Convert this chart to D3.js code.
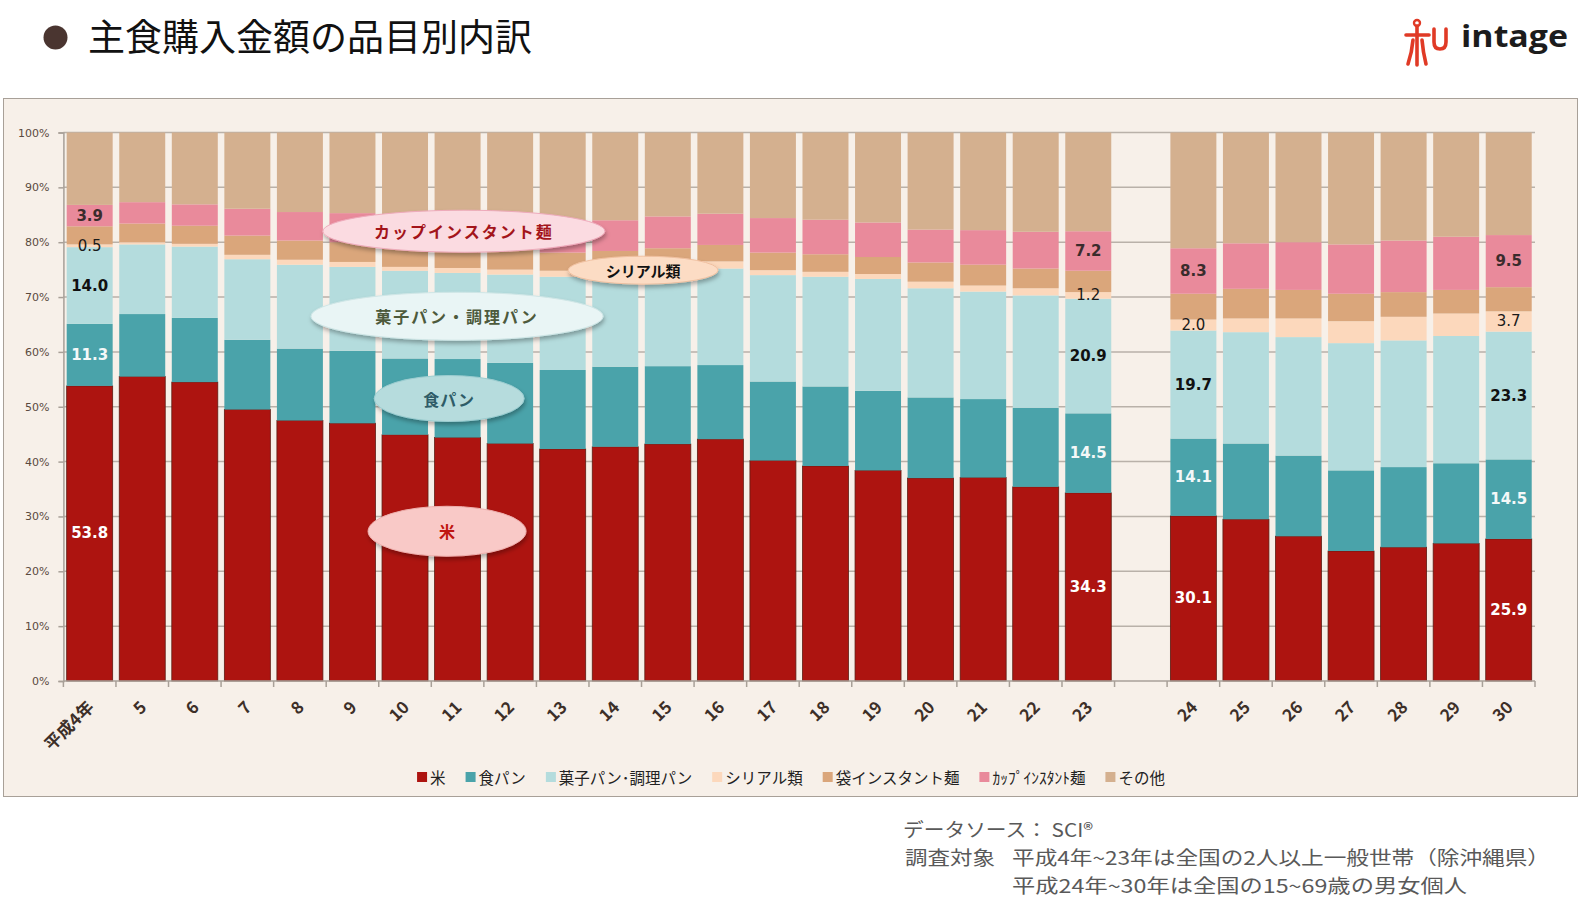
<!DOCTYPE html>
<html><head><meta charset="utf-8">
<script src="https://cdn.jsdelivr.net/npm/d3@7"></script>
<style>body{margin:0;background:#fff;} svg{display:block;}</style>
</head><body>
<svg id="c" width="1582" height="913"></svg>
<script>
// ---------------- DATA ----------------
const categories = ["平成4年","5","6","7","8","9","10","11","12","13","14","15","16","17","18","19","20","21","22","23",
                    "24","25","26","27","28","29","30"];
const rice     = [53.8,55.5,54.5,49.5,47.5,47.0,44.9,44.4,43.3,42.3,42.7,43.2,44.1,40.2,39.2,38.4,37.0,37.1,35.4,34.3,30.1,29.5,26.4,23.7,24.4,25.1,25.9];
const shokupan = [11.3,11.4,11.7,12.7,13.1,13.2,13.9,14.3,14.7,14.4,14.6,14.2,13.5,14.4,14.5,14.5,14.7,14.3,14.4,14.5,14.1,13.8,14.7,14.7,14.6,14.6,14.5];
const kashipan = [14.0,12.7,13.0,14.7,15.3,15.3,16.0,15.7,16.1,17.0,16.9,17.2,17.6,19.4,20.0,20.4,19.9,19.6,20.5,20.9,19.7,20.3,21.6,23.2,23.1,23.2,23.3];
const cereal   = [0.5,0.4,0.5,0.8,0.9,0.9,0.7,0.9,0.9,1.1,0.9,1.1,1.3,0.9,0.9,0.9,1.2,1.1,1.3,1.2,2.0,2.5,3.4,4.0,4.3,4.1,3.7];
const fukuro   = [3.3,3.4,3.3,3.5,3.5,3.6,4.0,3.7,3.8,3.3,3.3,3.2,3.0,3.2,3.2,3.1,3.5,3.8,3.6,3.9,4.7,5.4,5.2,5.0,4.5,4.3,4.4];
const cup      = [3.9,3.9,3.9,4.9,5.2,5.3,5.5,5.8,5.7,5.9,5.6,5.8,5.7,6.3,6.3,6.3,6.0,6.3,6.7,7.2,8.3,8.3,8.7,9.0,9.4,9.7,9.5];
const other    = [13.2,12.7,13.1,13.9,14.5,14.7,15.0,15.2,15.5,16.0,16.0,15.3,14.8,15.6,15.9,16.4,17.7,17.8,18.1,18.0,21.1,20.2,20.0,20.4,19.7,19.0,18.7];
const seriesNames = ["米","食パン","菓子パン・調理パン","シリアル類","袋インスタント麺","カップインスタント麺","その他"];
const legendLabels = ["米","食パン","菓子パン･調理パン","シリアル類","袋インスタント麺","ｶｯﾌﾟｲﾝｽﾀﾝﾄ麺","その他"];
const yTicks = [0,10,20,30,40,50,60,70,80,90,100];
const labelledYears = ["平成4年","23","24","30"];
const labelledSeries = ["米","食パン","菓子パン・調理パン","シリアル類","カップインスタント麺"];

// ---------------- STYLE ----------------
const colors = ["#ad1410","#4aa3aa","#b4dcdd","#fcd8bc","#daa67b","#e98a9b","#d4b08f"];
const labelStyle = {
  "米":{fill:"#ffffff",weight:"bold"},
  "食パン":{fill:"#f4f8f8",weight:"bold"},
  "菓子パン・調理パン":{fill:"#111111",weight:"bold"},
  "シリアル類":{fill:"#1a1a1a",weight:"normal"},
  "カップインスタント麺":{fill:"#3a2c2c",weight:"bold"}
};

const svg = d3.select("#c");
const defs = svg.append("defs");
const f = defs.append("filter").attr("id","sh").attr("x","-20%").attr("y","-40%").attr("width","140%").attr("height","190%");
f.append("feDropShadow").attr("dx",1).attr("dy",3).attr("stdDeviation",2).attr("flood-color","#000").attr("flood-opacity",0.3);

// Title
svg.append("circle").attr("cx",55.5).attr("cy",37.5).attr("r",12).attr("fill","#4a3530");
svg.append("text").attr("x",88).attr("y",51).attr("font-family","'Noto Sans CJK JP'").attr("font-size",37)
  .attr("fill","#111").text("主食購入金額の品目別内訳");

// Logo
const lg = svg.append("g").attr("transform","translate(1404,18)").attr("stroke","#e03a26").attr("fill","none")
  .attr("stroke-width",3.6).attr("stroke-linecap","round");
lg.append("circle").attr("cx",13).attr("cy",5).attr("r",3).attr("stroke-width",2.4);
lg.append("path").attr("d","M13 8 V47");
lg.append("path").attr("d","M2 17 H25");
lg.append("path").attr("d","M9 22 Q8 34 4 46");
lg.append("path").attr("d","M18 22 Q19 34 22 46");
lg.append("path").attr("d","M30 11 V24 Q30 31 36 31 Q42 31 42 24 V11");
svg.append("text").attr("x",1461).attr("y",47).attr("font-family","'Open Sans'").attr("font-weight",700)
  .attr("font-size",31).attr("fill","#1c1c1c").attr("textLength",107).attr("lengthAdjust","spacingAndGlyphs").text("intage");

// Frame
svg.append("rect").attr("x",3.5).attr("y",98.5).attr("width",1574).attr("height",698)
  .attr("fill","#f7f0e9").attr("stroke","#a8a098").attr("stroke-width",1);

// Scales
const plot = {left:63.4,right:1535,top:132.5,bottom:681};
const gapKey = "__gap__";
const domain = [...categories.slice(0,20), gapKey, ...categories.slice(20)];
const x = d3.scaleBand().domain(domain).range([plot.left,plot.right]).paddingInner(0.125).paddingOuter(0.0625);
const y = d3.scaleLinear().domain([0,100]).range([plot.bottom,plot.top]);
const step = x.step();

// gridlines
svg.append("g").selectAll("line").data(yTicks.filter(d=>d>0)).join("line")
  .attr("x1",plot.left).attr("x2",plot.right).attr("y1",d=>y(d)).attr("y2",d=>y(d))
  .attr("stroke","#b9b1a9").attr("stroke-width",1.5);

// data table
const table = categories.map((c,i)=>({cat:c, "米":rice[i], "食パン":shokupan[i], "菓子パン・調理パン":kashipan[i],
  "シリアル類":cereal[i], "袋インスタント麺":fukuro[i], "カップインスタント麺":cup[i], "その他":other[i]}));
const stack = d3.stack().keys(seriesNames)(table);

const gBars = svg.append("g");
stack.forEach((s,si)=>{
  gBars.append("g").attr("fill",colors[si])
    .selectAll("rect").data(s).join("rect")
    .attr("x",d=>x(d.data.cat)).attr("width",x.bandwidth())
    .attr("y",d=>y(d[1])).attr("height",d=>y(d[0])-y(d[1]))
    .attr("stroke",si===0?"#5e1d14":"none").attr("stroke-width",si===0?0.8:0);
});

// Axes
const yAxis = svg.append("g").attr("transform",`translate(${plot.left},0)`)
  .call(d3.axisLeft(y).tickValues(yTicks).tickFormat(d=>d+"%").tickSize(5).tickPadding(9));
yAxis.select(".domain").attr("stroke","#a8a098").attr("stroke-width",1.5);
yAxis.selectAll(".tick line").attr("stroke","#a8a098").attr("stroke-width",1.5);
yAxis.selectAll(".tick text").attr("font-family","'DejaVu Sans'").attr("font-size",11).attr("fill","#5a4a3e");

const xg = svg.append("g");
xg.append("line").attr("x1",plot.left).attr("x2",plot.right).attr("y1",plot.bottom).attr("y2",plot.bottom)
  .attr("stroke","#a8a098").attr("stroke-width",1.5);
xg.selectAll("line.t").data(d3.range(domain.length+1)).join("line").attr("class","t")
  .attr("x1",i=>plot.left+i*step).attr("x2",i=>plot.left+i*step).attr("y1",plot.bottom).attr("y2",plot.bottom+6)
  .attr("stroke","#a8a098").attr("stroke-width",1.5);
xg.selectAll("text").data(categories).join("text")
  .attr("transform",d=>`translate(${x(d)+x.bandwidth()/2},703) rotate(-45)`)
  .attr("text-anchor","end").attr("dominant-baseline","central")
  .attr("font-family","'Noto Sans CJK JP'").attr("font-size",17).attr("font-weight","bold")
  .attr("fill","#3d2f28").text(d=>d);

// Data labels
const fmt = d3.format(".1f");
const gl = svg.append("g").attr("font-family","'DejaVu Sans'").attr("font-size",15).attr("text-anchor","middle");
stack.forEach(s=>{
  if(!labelledSeries.includes(s.key)) return;
  const st = labelStyle[s.key];
  gl.selectAll(null).data(s.filter(d=>labelledYears.includes(d.data.cat))).join("text")
    .attr("x",d=>x(d.data.cat)+x.bandwidth()/2).attr("y",d=>y((d[0]+d[1])/2))
    .attr("dominant-baseline","central").attr("fill",st.fill).attr("font-weight",st.weight)
    .text(d=>fmt(d.data[s.key]));
});

// Annotation callouts (slot = position in band steps from plot left, pct = y value)
const callouts = [
  {text:"カップインスタント麺", slot:7.62, pct:82.0, rx:141, ry:21, fill:"#fbdbe1", stroke:"#eeaabb", color:"#a3141a", ls:2, fs:16},
  {text:"シリアル類", slot:11.03, pct:74.9, rx:75, ry:14, fill:"#fcdcc4", stroke:"#f0c0a0", color:"#111", ls:0, fs:15},
  {text:"菓子パン・調理パン", slot:7.49, pct:66.5, rx:146, ry:24, fill:"#e9f5f5", stroke:"#cfe6e6", color:"#4d5a3c", ls:2, fs:16},
  {text:"食パン", slot:7.34, pct:51.5, rx:75, ry:23, fill:"#b6dcdd", stroke:"#9ccdd0", color:"#2e5c68", ls:1, fs:16},
  {text:"米", slot:7.30, pct:27.3, rx:79, ry:25, fill:"#f9c9c7", stroke:"#eeb0ae", color:"#c0140f", ls:0, fs:16}
];
const gc = svg.append("g");
callouts.forEach(c=>{
  const cx = plot.left + c.slot*step, cy = y(c.pct);
  gc.append("ellipse").attr("cx",cx).attr("cy",cy).attr("rx",c.rx).attr("ry",c.ry)
    .attr("fill",c.fill).attr("stroke",c.stroke).attr("stroke-width",1).attr("filter","url(#sh)");
  gc.append("text").attr("x",cx).attr("y",cy).attr("text-anchor","middle").attr("dominant-baseline","central")
    .attr("font-family","'Noto Sans CJK JP'").attr("font-weight","bold").attr("font-size",c.fs)
    .attr("letter-spacing",c.ls).attr("fill",c.color).text(c.text);
});

// Legend
const leg = svg.append("g");
let lx = 0;
legendLabels.forEach((t,i)=>{
  const g = leg.append("g");
  g.append("rect").attr("x",0).attr("y",-5).attr("width",10).attr("height",10).attr("fill",colors[i]);
  const tx = g.append("text").attr("x",13).attr("y",0).attr("dominant-baseline","central")
    .attr("font-family","'Noto Sans CJK JP'").attr("font-size",15.5).attr("fill","#222").text(t);
  const w = 13 + tx.node().getComputedTextLength();
  g.attr("transform",`translate(${lx},0)`);
  lx += w + 20;
});
const total = lx - 20;
leg.attr("transform",`translate(${791 - total/2},777)`);

// Source notes
const note = svg.append("g").attr("font-family","'Noto Sans CJK JP'").attr("fill","#595959").attr("font-size",19)
  .attr("lengthAdjust","spacingAndGlyphs");
note.append("text").attr("x",903).attr("y",837).attr("textLength",190).attr("lengthAdjust","spacingAndGlyphs").text("データソース： SCI®");
note.append("text").attr("x",905).attr("y",865).attr("textLength",90).attr("lengthAdjust","spacingAndGlyphs").text("調査対象");
note.append("text").attr("x",1012).attr("y",865).attr("textLength",538).attr("lengthAdjust","spacingAndGlyphs").text("平成4年~23年は全国の2人以上一般世帯（除沖縄県）");
note.append("text").attr("x",1012).attr("y",893).attr("textLength",455).attr("lengthAdjust","spacingAndGlyphs").text("平成24年~30年は全国の15~69歳の男女個人");
</script>
</body></html>
